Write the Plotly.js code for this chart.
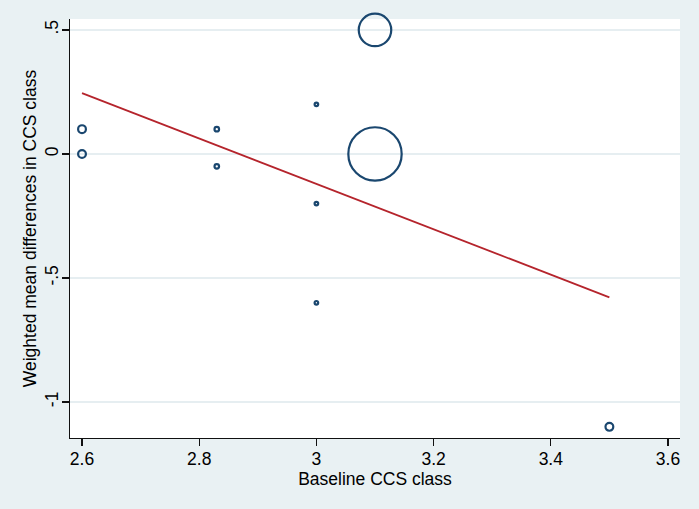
<!DOCTYPE html>
<html>
<head>
<meta charset="utf-8">
<script src="https://cdn.plot.ly/plotly-3.0.1.min.js"></script>
<style>
html,body{margin:0;padding:0;background:#ffffff;}
#chart{width:699px;height:509px;}
</style>
</head>
<body>
<div id="chart"></div>
<script>
// Study-level data: baseline CCS class, weighted mean difference, relative weight
var baselineCCS = [2.6, 2.6, 2.83, 2.83, 3.0, 3.0, 3.0, 3.1, 3.1, 3.5];
var meanDiff    = [0.1, 0.0, 0.1, -0.05, 0.2, -0.2, -0.6, 0.5, 0.0, -1.1];
var weights     = [3.8, 3.8, 1.3, 1.3, 0.8, 0.8, 0.8, 66, 178, 3.8];

// Fitted meta-regression line
var fitX = [2.6, 3.5];
var fitY = [0.245, -0.578];

// Tick labels
var xTickVals = [2.6, 2.8, 3.0, 3.2, 3.4, 3.6];
var xTickText = ["2.6", "2.8", "3", "3.2", "3.4", "3.6"];
var yTickVals = [0.5, 0, -0.5, -1];
var yTickText = [".5", "0", "-.5", "-1"];

var navy = "#1a476f";
var lineRed = "#b5242c";

var traces = [
  {
    x: baselineCCS,
    y: meanDiff,
    type: "scatter",
    mode: "markers",
    cliponaxis: false,
    marker: {
      symbol: "circle-open",
      size: weights,
      sizemode: "area",
      sizeref: 0.125,
      color: navy,
      opacity: 1,
      line: {color: navy, width: 2.2}
    },
    hoverinfo: "x+y"
  },
  {
    x: fitX,
    y: fitY,
    type: "scatter",
    mode: "lines",
    line: {color: lineRed, width: 1.8},
    hoverinfo: "skip"
  }
];

var layout = {
  width: 699,
  height: 509,
  showlegend: false,
  paper_bgcolor: "#e9f1f3",
  plot_bgcolor: "#ffffff",
  font: {family: "Liberation Sans, Arial, sans-serif", size: 17.5, color: "#000000"},
  margin: {l: 70, r: 19, t: 19, b: 71},
  xaxis: {
    range: [2.5795, 3.6205],
    tickvals: xTickVals,
    ticktext: xTickText,
    ticks: "outside",
    ticklen: 7,
    tickwidth: 1.3,
    tickcolor: "#111111",
    ticklabelstandoff: -2,
    showline: true,
    linecolor: "#111111",
    linewidth: 1.3,
    showgrid: false,
    zeroline: false,
    tickfont: {size: 17.5},
    title: {text: "Baseline CCS class", font: {size: 17.5}, standoff: 0}
  },
  yaxis: {
    range: [-1.145, 0.544],
    tickvals: yTickVals,
    ticktext: yTickText,
    tickangle: -90,
    ticks: "outside",
    ticklen: 7,
    tickwidth: 1.3,
    tickcolor: "#111111",
    ticklabelstandoff: -3,
    showline: true,
    linecolor: "#111111",
    linewidth: 1.3,
    showgrid: true,
    gridcolor: "#e6eef1",
    gridwidth: 1.2,
    zeroline: false,
    tickfont: {size: 17.5},
    title: {text: "Weighted mean differences in CCS class", font: {size: 17.5}, standoff: 0}
  }
};

Plotly.newPlot("chart", traces, layout, {displayModeBar: false, staticPlot: true});
</script>
</body>
</html>
